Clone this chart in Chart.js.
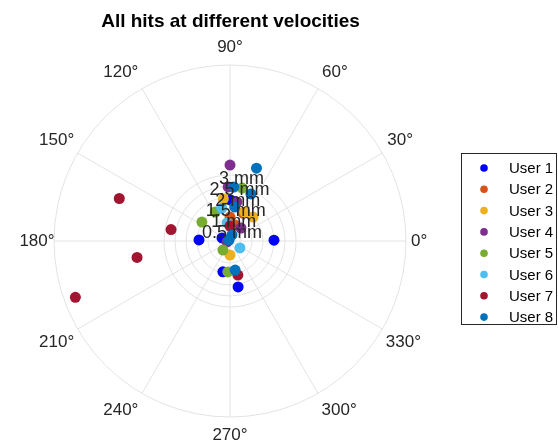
<!DOCTYPE html>
<html>
<head>
<meta charset="utf-8">
<script src="https://cdn.jsdelivr.net/npm/chart.js@4.4.0/dist/chart.umd.min.js"></script>
<style>
  body { margin: 0; background: #fff; }
  canvas { display: block; }
</style>
</head>
<body>
<canvas id="polarChart" width="558" height="447"></canvas>
<script>
// hits per user: angle in degrees, radius in mm
const users = ["User 1", "User 2", "User 3", "User 4", "User 5", "User 6", "User 7", "User 8"];
const userColors = ["#0000FF", "#D95319", "#EDB120", "#7E2F8E", "#77AC30", "#4DBEEE", "#A2142F", "#0072BD"];

const theta1 = [178, 1, 89, 159, 257, 280];
const r1 = [1.41, 2.0, 1.86, 0.39, 1.44, 2.12];
const theta2 = [65, 90, 73];
const r2 = [1.40, 1.09, 0.76];
const theta3 = [99, 63, 46, 270];
const r3 = [1.94, 1.48, 1.51, 0.64];
const theta4 = [90, 92, 80, 50, 198];
const r4 = [3.45, 2.46, 1.80, 0.77, 0.14];
const theta5 = [77, 117, 146, 232, 266];
const r5 = [2.47, 1.48, 1.54, 0.52, 1.41];
const theta6 = [104, 99, 325];
const r6 = [1.54, 0.83, 0.55];
const theta7 = [159, 169, 190, 200, 90, 283];
const r7 = [5.39, 2.73, 4.29, 7.48, 0.68, 1.59];
const theta8 = [70, 86, 66, 82, 72, 135, 280];
const r8 = [3.52, 2.46, 2.34, 1.56, 0.29, 0.06, 1.34];

const thetas = [theta1, theta2, theta3, theta4, theta5, theta6, theta7, theta8];
const radii = [r1, r2, r3, r4, r5, r6, r7, r8];

const rTicks = [0.5, 1, 1.5, 2, 2.5, 3];
const rTickLabels = ["0.5 mm", "1 mm", "1.5 mm", "2 mm", "2.5 mm", "3 mm"];
const rMax = 8;
const angleTicks = [0, 30, 60, 90, 120, 150, 180, 210, 240, 270, 300, 330];

const FONT = "'Liberation Sans', Arial, Helvetica, sans-serif";

function toXY(th, r) {
    return th.map((t, i) => {
        const a = t * Math.PI / 180;
        return { x: r[i] * Math.cos(a), y: r[i] * Math.sin(a) };
    });
}

const datasets = users.map((name, i) => ({
    label: name,
    data: toXY(thetas[i], radii[i]),
    backgroundColor: userColors[i],
    borderWidth: 0,
    pointRadius: 5.5,
    pointHoverRadius: 5.5,
    order: users.length - i
}));

// polar grid, labels, title and legend
const polarDecor = {
    id: "polarDecor",
    beforeDatasetsDraw(chart) {
        const ctx = chart.ctx;
        const xs = chart.scales.x;
        const ys = chart.scales.y;
        const cx = xs.getPixelForValue(0);
        const cy = ys.getPixelForValue(0);
        const R = xs.getPixelForValue(rMax) - cx;

        ctx.save();
        ctx.strokeStyle = "#E3E3E3";
        ctx.lineWidth = 1;
        angleTicks.forEach(t => {
            const a = t * Math.PI / 180;
            ctx.beginPath();
            ctx.moveTo(cx, cy);
            ctx.lineTo(cx + R * Math.cos(a), cy - R * Math.sin(a));
            ctx.stroke();
        });
        rTicks.concat([rMax]).forEach(r => {
            const pr = xs.getPixelForValue(r) - cx;
            ctx.beginPath();
            ctx.arc(cx, cy, pr, 0, Math.PI * 2);
            ctx.stroke();
        });
        ctx.restore();
    },
    afterDatasetsDraw(chart) {
        const ctx = chart.ctx;
        const xs = chart.scales.x;
        const ys = chart.scales.y;
        const cx = xs.getPixelForValue(0);
        const cy = ys.getPixelForValue(0);

        ctx.save();
        ctx.fillStyle = "#262626";
        ctx.textAlign = "center";
        ctx.textBaseline = "middle";

        // radial tick labels along 80 degrees
        ctx.font = "18px " + FONT;
        const la = 80 * Math.PI / 180;
        rTicks.forEach((r, i) => {
            const px = xs.getPixelForValue(r * Math.cos(la));
            const py = ys.getPixelForValue(r * Math.sin(la));
            ctx.fillText(rTickLabels[i], px, py + 3);
        });

        // angle labels, pushed out from the circle
        ctx.font = "17px " + FONT;
        const labelR = 186;
        angleTicks.forEach(t => {
            const a = t * Math.PI / 180;
            const c = Math.cos(a), s = Math.sin(a);
            const txt = t + "°";
            const hw = ctx.measureText(txt).width / 2;
            const k = 0.4 + 0.6 * Math.abs(s);
            const sx = Math.abs(c) < 0.01 ? 0 : Math.sign(c);
            const sy = Math.abs(s) < 0.01 ? 0 : Math.sign(s);
            ctx.fillText(txt, cx + labelR * c + hw * k * sx, cy - labelR * s - 8 * sy);
        });

        // title
        ctx.fillStyle = "#000";
        ctx.font = "bold 19px " + FONT;
        ctx.fillText("All hits at different velocities", 230.5, 22);

        // legend box
        const bx = 461.5, by = 153.5, bw = 95, bh = 171;
        ctx.fillStyle = "#fff";
        ctx.fillRect(bx, by, bw, bh);
        ctx.strokeStyle = "#262626";
        ctx.lineWidth = 1;
        ctx.strokeRect(bx, by, bw, bh);
        ctx.font = "15px " + FONT;
        ctx.textAlign = "left";
        chart.data.datasets.forEach((ds, i) => {
            const yy = 168 + i * 21.3;
            ctx.fillStyle = ds.backgroundColor;
            ctx.beginPath();
            ctx.arc(484, yy, 3.8, 0, Math.PI * 2);
            ctx.fill();
            ctx.fillStyle = "#000";
            ctx.fillText(ds.label, 509, yy + 1);
        });
        ctx.restore();
    }
};

const ctx = document.getElementById("polarChart").getContext("2d");

const chart = new Chart(ctx, {
    type: "scatter",
    data: { datasets: datasets },
    options: {
        responsive: false,
        animation: false,
        layout: {
            padding: { left: 54, right: 152, top: 65, bottom: 30 }
        },
        scales: {
            x: { type: "linear", min: -rMax, max: rMax, display: false },
            y: { type: "linear", min: -rMax, max: rMax, display: false }
        },
        plugins: {
            legend: { display: false },
            title: { display: false },
            tooltip: { enabled: false }
        }
    },
    plugins: [polarDecor]
});
</script>
</body>
</html>
